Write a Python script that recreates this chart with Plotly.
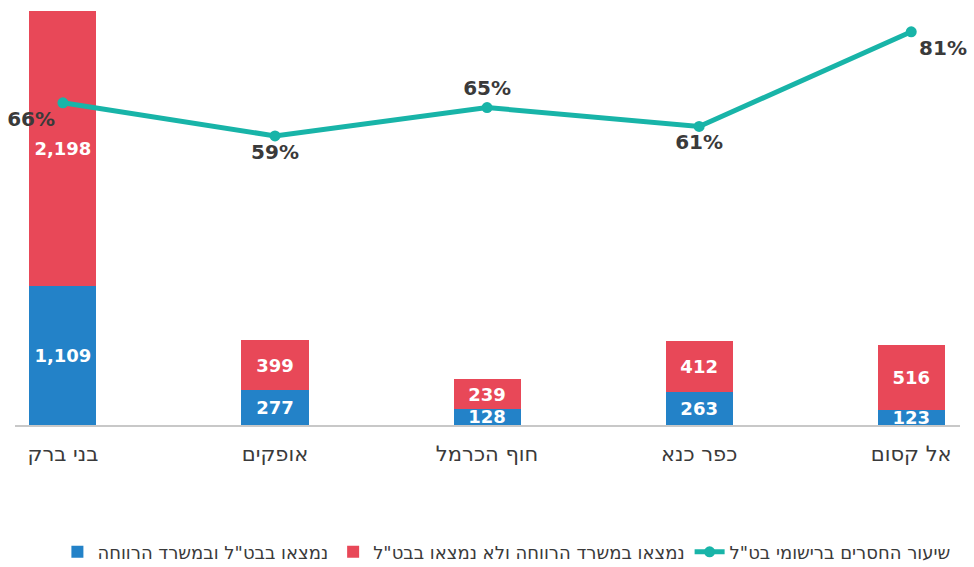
"""Stacked bars with a missing-rate line, Hebrew labels."""

import plotly.graph_objects as go

CITIES = ["בני ברק", "אופקים", "חוף הכרמל", "כפר כנא", "אל קסום"]
BOTH = [1109, 277, 128, 263, 123]          # found in both
WELFARE_ONLY = [2198, 399, 239, 412, 516]  # welfare only, not in NII
MISSING_PCT = [66, 59, 65, 61, 81]

NAME_BOTH = "נמצאו בבט\"ל ובמשרד הרווחה"
NAME_WELFARE = "נמצאו במשרד הרווחה ולא נמצאו בבט\"ל"
NAME_LINE = "שיעור החסרים ברישומי בט\"ל"

BLUE = '#2382C8'
RED = '#E84858'
TEAL = '#18B4A8'
TEXT = '#3a3a3a'
FONT = "DejaVu Sans, sans-serif"

x = list(range(len(CITIES)))
bar_w = 0.316

fig = go.Figure()

fig.add_trace(go.Bar(
    x=x, y=BOTH, name=NAME_BOTH, width=bar_w,
    marker=dict(color=BLUE, line=dict(width=0)),
    text=[f"{v:,}" for v in BOTH], textposition='inside',
    insidetextanchor='middle', constraintext='none',
    textfont=dict(color='white', size=18, family=FONT, weight='bold'),
    hoverinfo='skip'
))
fig.add_trace(go.Bar(
    x=x, y=WELFARE_ONLY, name=NAME_WELFARE, width=bar_w,
    marker=dict(color=RED, line=dict(width=0)),
    text=[f"{v:,}" for v in WELFARE_ONLY], textposition='inside',
    insidetextanchor='middle', constraintext='none',
    textfont=dict(color='white', size=18, family=FONT, weight='bold'),
    hoverinfo='skip'
))
fig.add_trace(go.Scatter(
    x=x, y=MISSING_PCT, name=NAME_LINE, yaxis='y2',
    mode='lines+markers+text', cliponaxis=False,
    line=dict(color=TEAL, width=5),
    marker=dict(color=TEAL, size=11),
    text=[f"{v}%" for v in MISSING_PCT],
    textposition=['bottom left', 'bottom center', 'top center',
                  'bottom center', 'bottom right'],
    textfont=dict(color=TEXT, size=20, family=FONT, weight='bold'),
    hoverinfo='skip'
))

fig.update_layout(
    width=974, height=567,
    barmode='stack',
    margin=dict(l=15, r=14, t=11, b=142, autoexpand=False),
    paper_bgcolor='white', plot_bgcolor='white',
    font=dict(family=FONT, color=TEXT),
    showlegend=True,
    legend=dict(
        orientation='h', traceorder='normal',
        x=0.52, xanchor='center', y=-0.307, yanchor='middle',
        font=dict(size=18, color=TEXT, family=FONT),
    ),
    xaxis=dict(
        range=[-0.226, 4.23], tickvals=x, ticktext=CITIES,
        showgrid=False, zeroline=False,
        showline=True, linecolor='#c8c8c8', linewidth=1.5,
        ticks='', tickfont=dict(size=21, color=TEXT, family=FONT),
        ticklabelstandoff=9
    ),
    yaxis=dict(range=[0, 3307], visible=False, showgrid=False),
    yaxis2=dict(range=[-2.1, 85.4], overlaying='y', visible=False,
                showgrid=False),
)

# the page body has a default 8px margin; drop it so the chart sits at 0,0
post = "document.body.style.margin='0';"

fig.write_html("out.html", post_script=post,
               config={'displayModeBar': False})
